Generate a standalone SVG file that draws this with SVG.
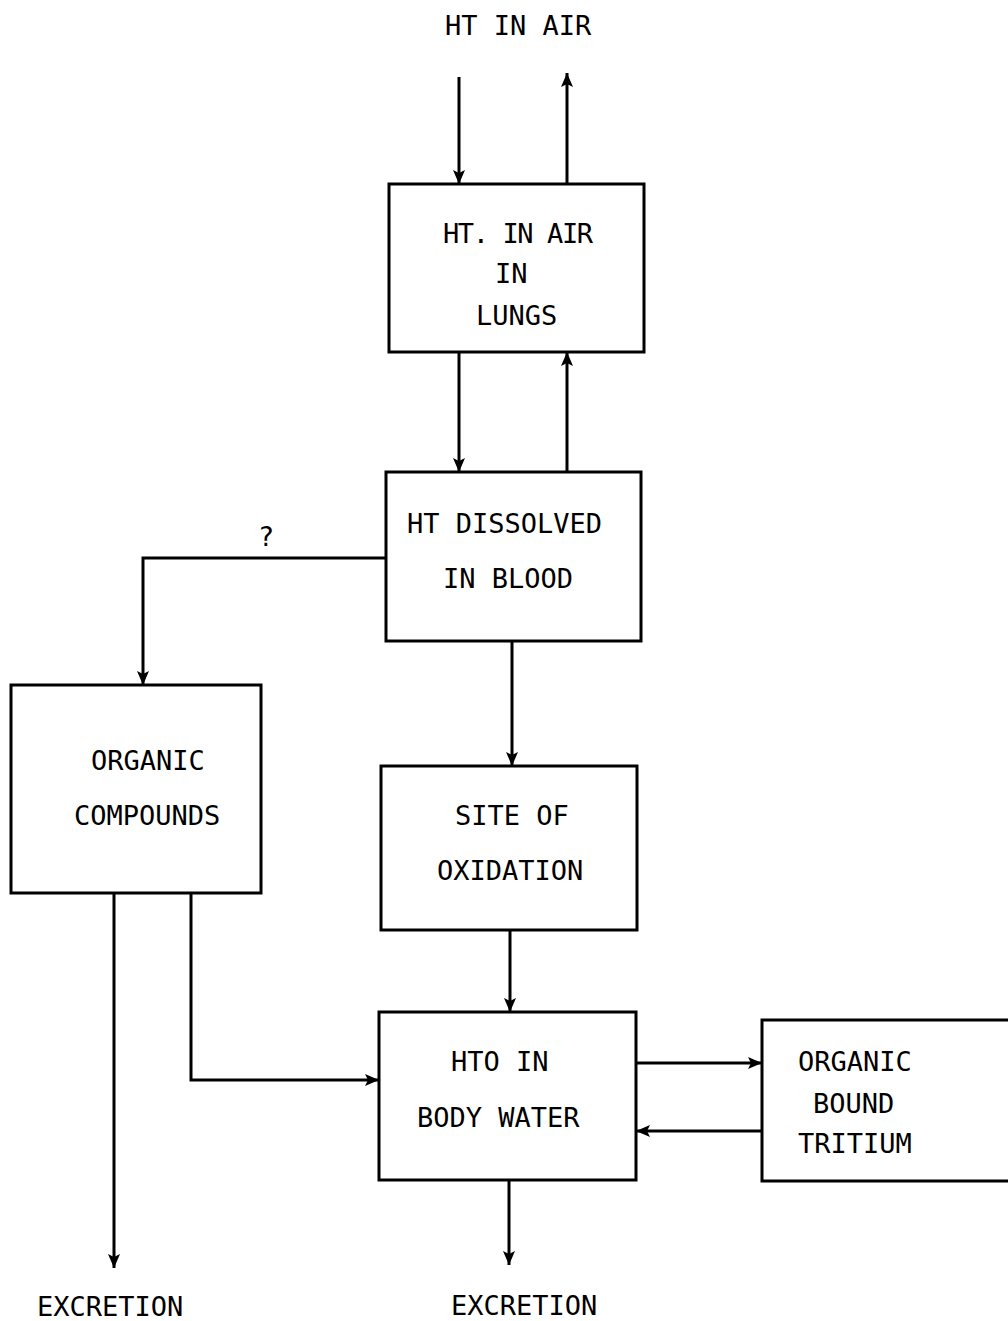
<svg xmlns="http://www.w3.org/2000/svg" width="1008" height="1321" viewBox="0 0 1008 1321">
<style>
.box{fill:#fff;stroke:#000;stroke-width:3}
.t{font-family:"DejaVu Sans Mono","Liberation Mono",monospace;font-size:27px;fill:#000}
.c{fill:none;stroke:#000;stroke-width:3}
</style>
<defs>
<marker id="ah" viewBox="0 0 14 12" refX="14" refY="6" markerWidth="14" markerHeight="12" markerUnits="userSpaceOnUse" orient="auto">
<path d="M0,0 L14,6 L0,12 L3,6 Z" fill="#000"/>
</marker>
</defs>
<rect width="1008" height="1321" fill="#fff"/>
<g id="connectors">
<line class="c" x1="459" y1="77" x2="459" y2="184" marker-end="url(#ah)"/>
<line class="c" x1="567" y1="184" x2="567" y2="73" marker-end="url(#ah)"/>
<line class="c" x1="459" y1="352" x2="459" y2="472" marker-end="url(#ah)"/>
<line class="c" x1="567" y1="472" x2="567" y2="352" marker-end="url(#ah)"/>
<polyline class="c" points="386,558 143,558 143,685" marker-end="url(#ah)"/>
<line class="c" x1="512" y1="641" x2="512" y2="766" marker-end="url(#ah)"/>
<line class="c" x1="510" y1="930" x2="510" y2="1012" marker-end="url(#ah)"/>
<line class="c" x1="114" y1="893" x2="114" y2="1268" marker-end="url(#ah)"/>
<polyline class="c" points="191,893 191,1080 379,1080" marker-end="url(#ah)"/>
<line class="c" x1="636" y1="1063" x2="762" y2="1063" marker-end="url(#ah)"/>
<line class="c" x1="762" y1="1131" x2="636" y2="1131" marker-end="url(#ah)"/>
<line class="c" x1="509" y1="1180" x2="509" y2="1265" marker-end="url(#ah)"/>
<text class="t" x="258" y="546">?</text>
</g>
<g id="ht-air">
<text class="t" x="445" y="35">HT IN AIR</text>
</g>
<g id="lungs">
<rect class="box" x="389" y="184" width="255" height="168"/>
<text class="t" x="443" y="243" textLength="150" lengthAdjust="spacing">HT. IN AIR</text>
<text class="t" x="495" y="283">IN</text>
<text class="t" x="476" y="325">LUNGS</text>
</g>
<g id="blood">
<rect class="box" x="386" y="472" width="255" height="169"/>
<text class="t" x="407" y="533">HT DISSOLVED</text>
<text class="t" x="443" y="588">IN BLOOD</text>
</g>
<g id="organic-compounds">
<rect class="box" x="11" y="685" width="250" height="208"/>
<text class="t" x="91" y="770">ORGANIC</text>
<text class="t" x="74" y="825">COMPOUNDS</text>
</g>
<g id="oxidation">
<rect class="box" x="381" y="766" width="256" height="164"/>
<text class="t" x="455" y="825">SITE OF</text>
<text class="t" x="437" y="880">OXIDATION</text>
</g>
<g id="hto">
<rect class="box" x="379" y="1012" width="257" height="168"/>
<text class="t" x="451" y="1071">HTO IN</text>
<text class="t" x="417" y="1127">BODY WATER</text>
</g>
<g id="obt">
<rect class="box" x="762" y="1020" width="250" height="161"/>
<text class="t" x="798" y="1071">ORGANIC</text>
<text class="t" x="813" y="1113">BOUND</text>
<text class="t" x="798" y="1153">TRITIUM</text>
</g>
<g id="excretion-left">
<text class="t" x="37" y="1316">EXCRETION</text>
</g>
<g id="excretion-right">
<text class="t" x="451" y="1315">EXCRETION</text>
</g>
</svg>
